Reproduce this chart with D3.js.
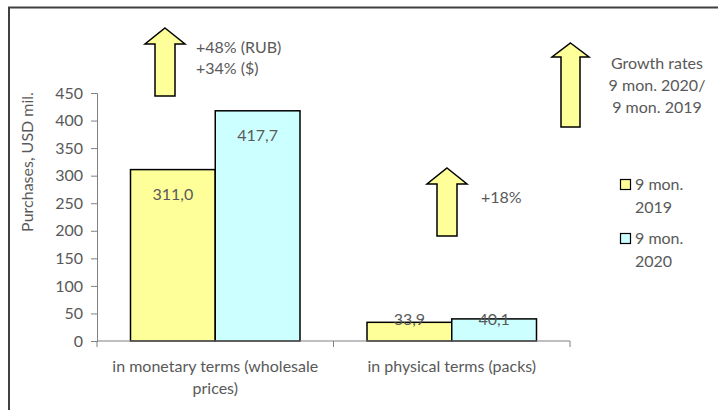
<!DOCTYPE html>
<html><head><meta charset="utf-8">
<script src="https://cdn.jsdelivr.net/npm/d3@7"></script>
<style>body{margin:0;background:#fff}svg text{font-family:Lato,"Open Sans",sans-serif;fill:#595959}</style>
</head><body><svg id="c" width="718" height="410"></svg>
<script>
const categories = [["in monetary terms (wholesale", "prices)"], ["in physical terms (packs)"]];
const seriesNames = [["9 mon.", "2019"], ["9 mon.", "2020"]];
const values2019 = [311.0, 33.9];
const values2020 = [417.7, 40.1];
const yTicks = [0, 50, 100, 150, 200, 250, 300, 350, 400, 450];
const growthNotes = [["+48% (RUB)", "+34% ($)"], ["+18%"]];
const growthTitle = ["Growth rates", "9 mon. 2020/", "9 mon. 2019"];
const colors = ["#ffff99", "#ccffff"];

const svg = d3.select("#c");
const fs = 16;
const fmt = v => v.toFixed(1).replace(".", ",");

// frame
svg.append("path").attr("d", "M9,412 V7.5 H720").attr("fill", "none").attr("stroke", "#404040").attr("stroke-width", 2);

const x0 = d3.scaleBand().domain(d3.range(categories.length)).range([97, 570]).paddingInner(0).paddingOuter(0);
const x1 = d3.scaleBand().domain([0, 1]).range([33.5, x0.bandwidth() - 33.5]);
const y = d3.scaleLinear().domain([0, 450]).range([341, 93]);

// y axis
const ya = svg.append("g").attr("transform", "translate(97,0)").call(d3.axisLeft(y).tickValues(yTicks).tickSize(6).tickPadding(8));
ya.select(".domain").attr("stroke", "#808080");
ya.selectAll(".tick line").attr("stroke", "#808080");
ya.selectAll("text").style("font-size", fs + "px").style("fill", "#595959").style("font-family", "Lato");

// bars
const data = categories.map((c, i) => [values2019[i], values2020[i]]);
const g = svg.append("g");
data.forEach((vals, i) => {
  vals.forEach((v, s) => {
    const bx = x0(i) + x1(s);
    g.append("rect").attr("x", bx).attr("y", y(v)).attr("width", x1.bandwidth()).attr("height", y(0) - y(v))
      .attr("fill", colors[s]).attr("stroke", "#000").attr("stroke-width", 1.5);
    const ly = Math.min(y(v) + 25, y(0) - 22);
    g.append("text").attr("x", bx + x1.bandwidth() / 2).attr("y", ly).attr("dy", "0.35em")
      .attr("text-anchor", "middle").style("font-size", fs + "px").text(fmt(v));
  });
});

// x axis
const xa = svg.append("g").attr("transform", "translate(0,341)");
xa.append("line").attr("x1", 97).attr("x2", 570).attr("stroke", "#808080");
[0, 1, 2].forEach(k => {
  const tx = k < 2 ? x0(k) : x0(1) + x0.bandwidth();
  xa.append("line").attr("x1", tx).attr("x2", tx).attr("y1", 0).attr("y2", 6).attr("stroke", "#808080");
});
categories.forEach((lines, i) => {
  lines.forEach((t, j) => {
    xa.append("text").attr("x", x0(i) + x0.bandwidth() / 2).attr("y", 25 + j * 22).attr("dy", "0.35em")
      .attr("text-anchor", "middle").style("font-size", fs + "px").text(t);
  });
});

// y title
svg.append("text").attr("transform", "translate(27,162) rotate(-90)").attr("text-anchor", "middle")
  .attr("dy", "0.35em").style("font-size", fs + "px").text("Purchases, USD mil.");

// arrows
function arrow(cx, tip, headBot, bottom, headHalf, shaftHalf) {
  const d = `M${cx},${tip} L${cx + headHalf},${headBot} L${cx + shaftHalf},${headBot} L${cx + shaftHalf},${bottom} L${cx - shaftHalf},${bottom} L${cx - shaftHalf},${headBot} L${cx - headHalf},${headBot} Z`;
  svg.append("path").attr("d", d).attr("fill", "#ffff99").attr("stroke", "#000").attr("stroke-width", 1.5);
}
arrow(165, 28, 44, 96, 20, 10);
arrow(570.5, 43, 57, 127, 18.5, 9.5);
arrow(447, 168, 184, 236, 20, 10);

growthNotes[0].forEach((t, j) => svg.append("text").attr("x", 196).attr("y", 47 + j * 21).attr("dy", "0.35em").style("font-size", fs + "px").text(t));
growthNotes[1].forEach((t, j) => svg.append("text").attr("x", 481).attr("y", 197 + j * 21).attr("dy", "0.35em").style("font-size", fs + "px").text(t));
growthTitle.forEach((t, j) => svg.append("text").attr("x", 657).attr("y", 63 + j * 22).attr("dy", "0.35em").attr("text-anchor", "middle").style("font-size", fs + "px").text(t));

// legend
seriesNames.forEach((lines, s) => {
  const ly = 179 + s * 54;
  svg.append("rect").attr("x", 620.5).attr("y", ly + 0.5).attr("width", 10).attr("height", 10)
    .attr("fill", colors[s]).attr("stroke", "#000").attr("stroke-width", 1.2);
  lines.forEach((t, j) => svg.append("text").attr("x", 635).attr("y", ly + 5 + j * 23).attr("dy", "0.35em").style("font-size", fs + "px").text(t));
});
</script></body></html>
